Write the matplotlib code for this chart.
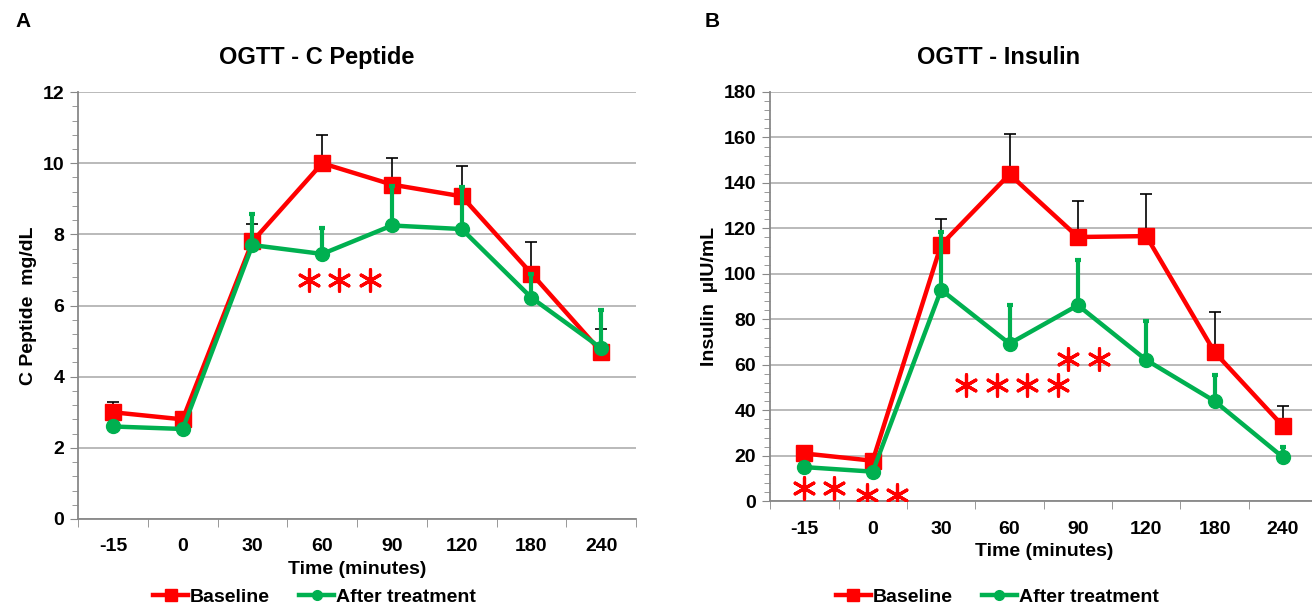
import matplotlib.pyplot as plt
import numpy as np

# time points (categorical x axis)
times = ['-15', '0', '30', '60', '90', '120', '180', '240']

# C peptide (mg/dL)
cpep_base = [3.0, 2.8, 7.8, 10.0, 9.4, 9.07, 6.9, 4.7]
cpep_base_top = [3.3, 3.0, 8.28, 10.8, 10.15, 9.92, 7.78, 5.35]
cpep_after = [2.6, 2.53, 7.7, 7.45, 8.25, 8.15, 6.22, 4.8]
cpep_after_top = [2.6, 2.53, 8.56, 8.19, 9.35, 9.33, 6.9, 5.88]

# Insulin (µIU/mL)
ins_base = [21.0, 17.8, 112.8, 143.8, 116.2, 116.6, 65.5, 33.0]
ins_base_top = [21.0, 17.8, 124.0, 161.6, 131.9, 135.2, 83.2, 41.9]
ins_after = [15.0, 13.0, 93.0, 69.3, 86.2, 62.1, 44.0, 19.3]
ins_after_top = [15.0, 13.0, 118.4, 86.2, 106.0, 79.1, 55.5, 23.7]

# significance asterisks (category index, value)
cpep_sig_x = [2.81, 3.24, 3.68]
cpep_sig_y = [6.73, 6.73, 6.73]
ins_sig_x = [0.0, 0.43, 0.92, 1.36, 2.37, 2.81, 3.26, 3.71, 3.86, 4.31]
ins_sig_y = [5.6, 5.6, 2.7, 2.7, 51.0, 51.0, 51.0, 51.0, 62.6, 62.6]

RED = '#ff0000'
GREEN = '#00b050'
GRID = '#b4b4b4'
narrow = ['Liberation Sans Narrow', 'Liberation Sans', 'DejaVu Sans']
wide = ['Liberation Sans', 'DejaVu Sans']

fig = plt.figure(figsize=(13.12, 6.09), dpi=100)


def panel(ax, base, base_top, after, after_top, ymax, ystep, minor,
          sig_x, sig_y, ylabel):
    x = np.arange(len(times))
    base = np.array(base)
    after = np.array(after)
    ax.errorbar(x, base, yerr=[np.zeros_like(base), np.array(base_top) - base],
                color=RED, lw=3.2, marker='s', ms=11, ecolor='black',
                elinewidth=1.2, capsize=4, capthick=1.2, zorder=3)
    ax.errorbar(x, after, yerr=[np.zeros_like(after), np.array(after_top) - after],
                color=GREEN, lw=3.2, marker='o', ms=10, ecolor=GREEN,
                elinewidth=3, capsize=2, capthick=3, zorder=4)
    ax.scatter(sig_x, sig_y, marker=(6, 2, 0), s=240, color=RED, lw=2.3, zorder=5)

    ax.set_xlim(-0.5, len(times) - 0.5)
    ax.set_ylim(0, ymax)
    ax.set_yticks(np.arange(0, ymax + ystep / 2, ystep))
    ax.set_yticks(np.arange(0, ymax + minor / 2, minor), minor=True)
    ax.set_xticks(x)
    ax.set_xticklabels(times)
    ax.set_xticks(np.arange(-0.5, len(times), 1), minor=True)
    ax.tick_params(axis='x', which='major', length=0, pad=14)
    ax.tick_params(axis='x', which='minor', length=6, color='#888888', direction='out')
    ax.tick_params(axis='y', which='major', length=6, color='#888888', pad=4)
    ax.tick_params(axis='y', which='minor', length=4, color='#888888')
    for lab in ax.get_xticklabels() + ax.get_yticklabels():
        lab.set_family(narrow)
        lab.set_fontweight('bold')
        lab.set_fontsize(14)
    ax.yaxis.grid(True, color=GRID, lw=1.3)
    ax.set_axisbelow(True)
    for s in ['top', 'right']:
        ax.spines[s].set_visible(False)
    for s in ['left', 'bottom']:
        ax.spines[s].set_color('#888888')
        ax.spines[s].set_linewidth(1.3)
    ax.set_xlabel('Time (minutes)', family=narrow, fontweight='bold', fontsize=14, labelpad=4)
    ax.set_ylabel(ylabel, family=wide, fontweight='bold', fontsize=14, labelpad=4)


ax1 = fig.add_axes([0.0595, 0.1478, 0.4253, 0.701])
panel(ax1, cpep_base, cpep_base_top, cpep_after, cpep_after_top, 12, 2, 0.4,
      cpep_sig_x, cpep_sig_y, 'C Peptide  mg/dL')

ax2 = fig.add_axes([0.587, 0.177, 0.417, 0.672])
panel(ax2, ins_base, ins_base_top, ins_after, ins_after_top, 180, 20, 4,
      ins_sig_x, ins_sig_y, 'Insulin  µIU/mL')

# chart titles sit over the chart area, not the plot area
fig.text(0.241, 0.905, 'OGTT - C Peptide', family=wide, fontweight='bold',
         fontsize=17, ha='center', va='center')
fig.text(0.761, 0.905, 'OGTT - Insulin', family=wide, fontweight='bold',
         fontsize=17, ha='center', va='center')

fig.text(0.012, 0.955, 'A', family=wide, fontweight='bold', fontsize=15)
fig.text(0.537, 0.955, 'B', family=wide, fontweight='bold', fontsize=15)

for cx in [0.2397, 0.760]:
    h = [plt.Line2D([], [], color=RED, lw=3.2, marker='s', ms=8),
         plt.Line2D([], [], color=GREEN, lw=3.2, marker='o', ms=7)]
    fig.legend(h, ['Baseline', 'After treatment'], loc='center',
               bbox_to_anchor=(cx, 0.02), ncol=2, frameon=False,
               handlelength=1.8, handletextpad=0.1, columnspacing=1.5,
               prop={'family': narrow, 'weight': 'bold', 'size': 14})

fig.savefig('out.png', dpi=100)
